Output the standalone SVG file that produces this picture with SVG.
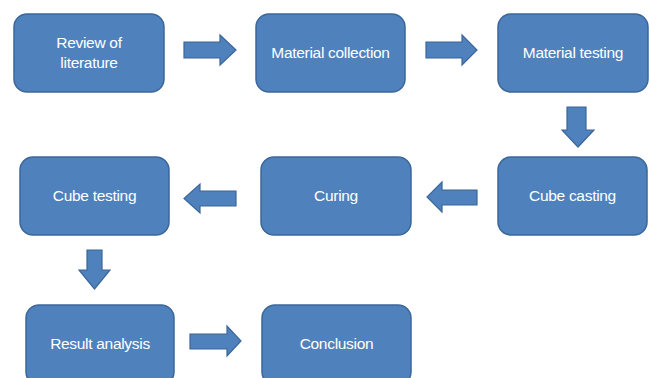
<svg xmlns="http://www.w3.org/2000/svg" width="649" height="378" viewBox="0 0 649 378">
<style>
.box{fill:#4F81BD;stroke:#3B679A;stroke-width:1.5}
.arr{fill:#4F81BD;stroke:#3B679A;stroke-width:1.2}
.t{font-family:"Liberation Sans",Arial,sans-serif;font-size:15.5px;fill:#FFFFFF;text-anchor:middle;letter-spacing:-0.3px}
</style>
<rect width="649" height="378" fill="#FFFFFF"/>
<g id="review">
<rect class="box" x="14" y="14" width="150" height="78" rx="13"/>
<text class="t" x="89" y="48">Review of</text>
<text class="t" x="89" y="68">literature</text>
</g>
<g id="collection">
<rect class="box" x="256" y="14" width="149" height="78" rx="13"/>
<text class="t" x="330.5" y="58">Material collection</text>
</g>
<g id="mtesting">
<rect class="box" x="498" y="14" width="150" height="78" rx="13"/>
<text class="t" x="573" y="58">Material testing</text>
</g>
<g id="casting">
<rect class="box" x="498" y="157" width="149" height="78" rx="13"/>
<text class="t" x="572.5" y="201">Cube casting</text>
</g>
<g id="curing">
<rect class="box" x="261" y="157" width="150" height="78" rx="13"/>
<text class="t" x="336" y="201">Curing</text>
</g>
<g id="ctesting">
<rect class="box" x="20" y="157" width="149" height="78" rx="13"/>
<text class="t" x="94.5" y="201">Cube testing</text>
</g>
<g id="result">
<rect class="box" x="26" y="305" width="148" height="80" rx="13"/>
<text class="t" x="100" y="349">Result analysis</text>
</g>
<g id="conclusion">
<rect class="box" x="262" y="305" width="149" height="80" rx="13"/>
<text class="t" x="336.5" y="349">Conclusion</text>
</g>
<g id="connectors">
<polygon class="arr" points="184,42 220,42 220,35 236,50 220,65 220,58 184,58"/>
<polygon class="arr" points="426,42 462,42 462,35 477,50 462,65 462,58 426,58"/>
<polygon class="arr" points="567,107 586,107 586,130 594,130 578,147 562,130 567,130"/>
<polygon class="arr" points="477,190 442,190 442,182 427,197 442,212 442,205 477,205"/>
<polygon class="arr" points="236,191 200,191 200,184 184,198.5 200,213 200,206 236,206"/>
<polygon class="arr" points="87,250 102,250 102,270 110,270 94.5,289 79,270 87,270"/>
<polygon class="arr" points="190,334 227,334 227,326 241,341 227,356 227,349 190,349"/>
</g>
</svg>
